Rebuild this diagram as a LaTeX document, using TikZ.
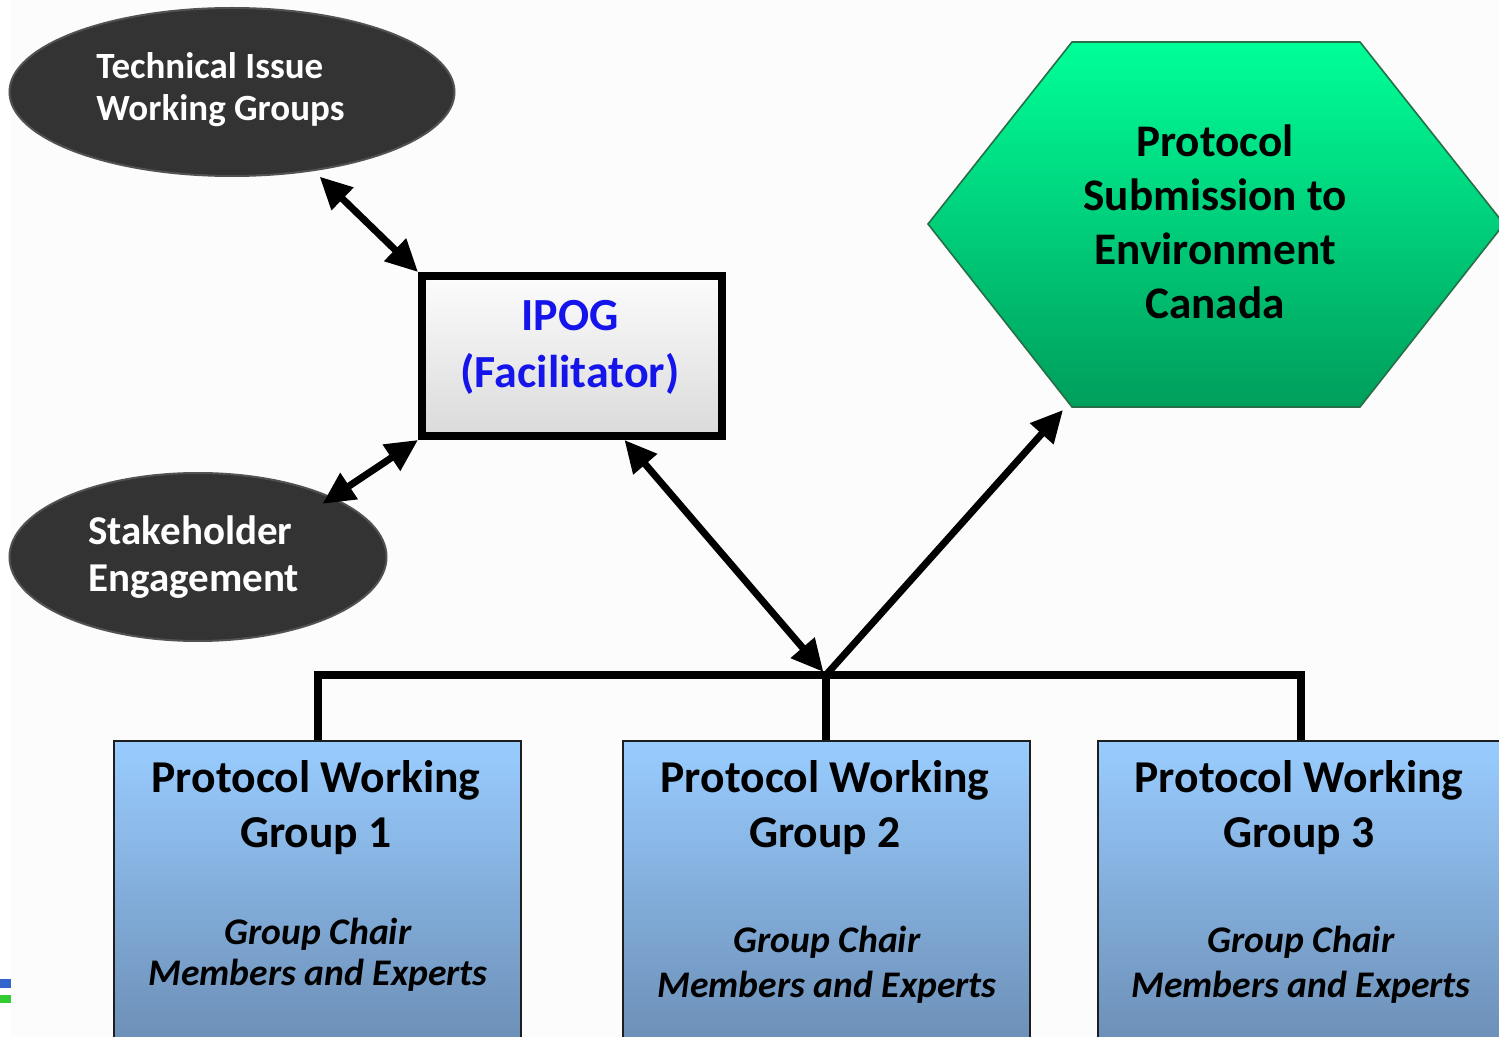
\documentclass[tikz,border=0pt]{standalone}
\usepackage{fontspec}
\setmainfont{Carlito}
\usetikzlibrary{shapes.geometric,arrows.meta}
\definecolor{bgc}{RGB}{252,252,252}
\definecolor{ellfill}{RGB}{51,51,51}
\definecolor{ipogblue}{RGB}{20,20,235}
\definecolor{hextop}{RGB}{0,255,153}
\definecolor{hexbot}{RGB}{0,158,92}
\definecolor{hexline}{RGB}{40,110,70}
\definecolor{boxtop}{RGB}{153,204,255}
\definecolor{boxbot}{RGB}{108,143,182}
\definecolor{boxline}{RGB}{30,30,30}
\definecolor{markblue}{RGB}{51,102,204}
\definecolor{markgreen}{RGB}{51,204,51}
\definecolor{ipogtop}{RGB}{252,252,252}
\definecolor{ipogbot}{RGB}{218,218,218}
\tikzset{
  ellshape/.style={ellipse, fill=ellfill, draw=ellfill!85!white, line width=1pt, inner sep=0pt},
  elltext/.style={text=white, align=left, anchor=west, inner sep=0pt},
  hexstyle/.style={draw=hexline, line width=0.8pt, top color=hextop, bottom color=hexbot},
  hextext/.style={align=center, font=\fontsize{22.6}{27}\selectfont\bfseries, inner sep=0pt},
  ipogbox/.style={rectangle, draw=black, line width=4pt, top color=ipogtop, bottom color=ipogbot, minimum width=150pt, minimum height=80pt, inner sep=0pt},
  ipogtext/.style={align=center, text=ipogblue, font=\fontsize{23}{28.5}\selectfont\bfseries, inner sep=0pt},
  pwgbox/.style={rectangle, draw=boxline, line width=1pt, top color=boxtop, bottom color=boxbot, minimum width=203.5pt, minimum height=152pt, inner sep=0pt},
  pwgtitle/.style={align=center, font=\fontsize{22.8}{27.5}\selectfont\bfseries, inner sep=0pt},
  pwgsubA/.style={align=center, font=\fontsize{18.8}{20.5}\selectfont\bfseries\itshape, inner sep=0pt},
  pwgsubB/.style={align=center, font=\fontsize{18.8}{22.5}\selectfont\bfseries\itshape, inner sep=0pt},
  bus/.style={draw=black, line width=4pt},
  dblarrow/.style={draw=black, line width=3.5pt, {Triangle[length=16pt,width=15pt]}-{Triangle[length=16pt,width=15pt]}},
  sarrow/.style={draw=black, line width=3.5pt, -{Triangle[length=16pt,width=15pt]}}
}
\begin{document}
\begin{tikzpicture}[x=0.5pt,y=-0.5pt]
\useasboundingbox (0,0) rectangle (1499,1037);
\clip (0,0) rectangle (1499,1037);
\fill[white] (0,0) rectangle (1499,1037);
\fill[bgc] (11,0) rectangle (1499,1037);
\fill[markblue] (0,979) rectangle (11,988);
\fill[markgreen] (0,995) rectangle (11,1003);

% ellipses
\node[ellshape, minimum width=222.5pt, minimum height=84pt] (tig) at (232,92) {};
\node[elltext, font=\fontsize{18.5}{21}\selectfont\bfseries] (tigtext) at (96,90) {Technical Issue\\Working Groups};
\node[ellshape, minimum width=188.5pt, minimum height=84pt] (se) at (198,557) {};
\node[elltext, font=\fontsize{20.5}{23.5}\selectfont\bfseries] (setext) at (88,557) {Stakeholder\\Engagement};

% hexagon
\path[hexstyle] (1072,42) -- (1360,42) -- (1504,224) -- (1360,407) -- (1072,407) -- (928,224) -- cycle;
\coordinate (hexbl) at (1063,410);
\node[hextext] (hext) at (1215,222) {Protocol\\Submission to\\Environment\\Canada};

% IPOG
\node[ipogbox] (ipog) at (572,356) {};
\node[ipogtext] (ipogt) at (570,347) {IPOG\\(Facilitator)};

% working group boxes
\node[pwgbox] (pwg1) at (317.5,893) {};
\node[pwgbox] (pwg2) at (826,893) {};
\node[pwgbox] (pwg3) at (1301,893) {};
\node[pwgtitle] (pwg1t) at (316,808) {Protocol Working\\Group 1};
\node[pwgtitle] (pwg2t) at (825,808) {Protocol Working\\Group 2};
\node[pwgtitle] (pwg3t) at (1299,808) {Protocol Working\\Group 3};
\node[pwgsubA] (pwg1s) at (318,955) {Group Chair\\Members and Experts};
\node[pwgsubB] (pwg2s) at (827,965) {Group Chair\\Members and Experts};
\node[pwgsubB] (pwg3s) at (1301,965) {Group Chair\\Members and Experts};

% bus
\coordinate (jn) at (826,675);
\draw[bus] (pwg1.north) |- (jn) -| (pwg3.north);
\draw[bus] (jn) -- (pwg2.north);

% arrows
\draw[dblarrow, shorten <=4pt] (tig.-44) -- (ipog.north west);
\draw[dblarrow, shorten <=-6pt] (se.24) -- (ipog.south west);
\draw[dblarrow, shorten >=2pt] (ipog.-58) -- (jn);
\draw[sarrow] (jn) -- (hexbl);
\end{tikzpicture}
\end{document}
